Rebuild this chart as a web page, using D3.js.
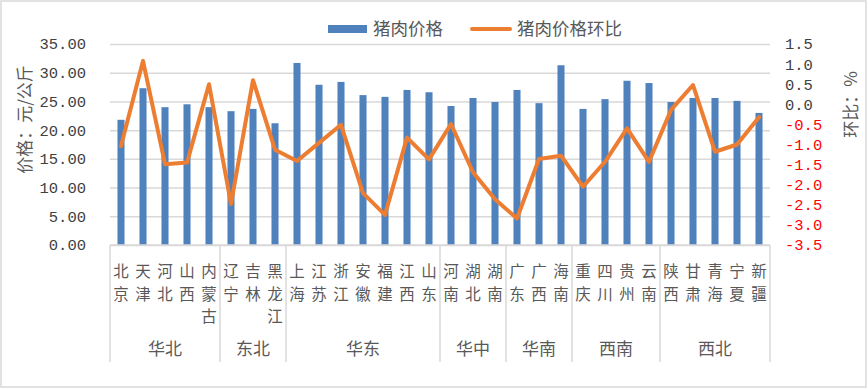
<!DOCTYPE html>
<html>
<head>
<meta charset="utf-8">
<script src="https://cdn.jsdelivr.net/npm/d3@7"></script>
<style>
  body { margin: 0; background: #fff; }
  svg text { font-family: "Noto Sans CJK SC", sans-serif; fill: #595959; }
  .num { font-family: "Liberation Mono", "DejaVu Sans Mono", monospace; }
</style>
</head>
<body>
<div id="chart"></div>
<script>
// provinces, grouped by region
const provinces = ['北京','天津','河北','山西','内蒙古','辽宁','吉林','黑龙江','上海','江苏','浙江','安徽','福建','江西','山东',
  '河南','湖北','湖南','广东','广西','海南','重庆','四川','贵州','云南','陕西','甘肃','青海','宁夏','新疆'];
const regions = [
  { name: '华北', n: 5 }, { name: '东北', n: 3 }, { name: '华东', n: 7 }, { name: '华中', n: 3 },
  { name: '华南', n: 3 }, { name: '西南', n: 4 }, { name: '西北', n: 5 }
];
// pork price, yuan/kg
const price = [21.8, 27.3, 24.0, 24.5, 24.0, 23.3, 23.7, 21.2, 31.7, 27.9, 28.4, 26.1, 25.8, 27.0, 26.6,
  24.2, 25.6, 24.9, 27.0, 24.7, 31.3, 23.7, 25.4, 28.6, 28.2, 24.9, 25.6, 25.6, 25.1, 23.0];
// month-on-month change, %
const mom = [-1.04, 1.08, -1.49, -1.45, 0.5, -2.48, 0.6, -1.13, -1.41, -0.96, -0.51, -2.21, -2.75, -0.83, -1.37,
  -0.49, -1.69, -2.36, -2.84, -1.36, -1.28, -2.05, -1.43, -0.6, -1.43, -0.14, 0.48, -1.18, -1.0, -0.32];
const leftTicks = [0, 5, 10, 15, 20, 25, 30, 35];
const rightTicks = [1.5, 1.0, 0.5, 0.0, -0.5, -1.0, -1.5, -2.0, -2.5, -3.0, -3.5];

const W = 868, H = 389;
const pLeft = 110, pRight = 770, pTop = 44, pBottom = 245;

const svg = d3.select('#chart').append('svg')
  .attr('width', W)
  .attr('height', H);

// outer frame
svg.append('rect')
  .attr('x', 1).attr('y', 1)
  .attr('width', W - 3).attr('height', H - 3)
  .style('fill', 'none')
  .style('stroke', '#d9d9d9')
  .style('stroke-width', 1.5);

const x = d3.scaleBand().domain(provinces).range([pLeft, pRight])
  .paddingInner(0.68).paddingOuter(0.34);
const step = x.step();
const cx = d => x(d) + x.bandwidth() / 2;

const yL = d3.scaleLinear().domain([0, 35]).range([pBottom, pTop]);
const yR = d3.scaleLinear().domain([-3.5, 1.5]).range([pBottom, pTop]);

// gridlines
svg.append('g')
  .attr('transform', `translate(${pLeft},0)`)
  .call(d3.axisLeft(yL).tickValues(leftTicks).tickSize(-(pRight - pLeft)).tickFormat(''))
  .call(g => g.select('.domain').remove())
  .call(g => g.selectAll('line').style('stroke', '#d9d9d9').style('stroke-width', 1.5));

// left axis labels
svg.append('g')
  .attr('transform', `translate(86,0)`)
  .call(d3.axisLeft(yL).tickValues(leftTicks).tickSize(0).tickPadding(0).tickFormat(d3.format('.2f')))
  .call(g => g.select('.domain').remove())
  .call(g => g.selectAll('text')
    .attr('class', 'num')
    .style('font-size', '15.5px')
    .style('fill', '#404040'));

// right axis labels
svg.append('g')
  .attr('transform', `translate(785,0)`)
  .call(d3.axisRight(yR).tickValues(rightTicks).tickSize(0).tickPadding(0)
    .tickFormat(d => d3.format('.1f')(d).replace('−', '-')))
  .call(g => g.select('.domain').remove())
  .call(g => g.selectAll('text')
    .attr('class', 'num')
    .style('font-size', '15.5px')
    .style('fill', d => d < 0 ? '#ff0000' : '#404040'));

// bars
svg.append('g').selectAll('rect')
  .data(provinces)
  .join('rect')
  .attr('x', d => x(d))
  .attr('width', x.bandwidth())
  .attr('y', (d, i) => yL(price[i]))
  .attr('height', (d, i) => yL(0) - yL(price[i]))
  .style('fill', '#4f81bd');

// line
const line = d3.line()
  .x((d, i) => cx(provinces[i]))
  .y(d => yR(d));
svg.append('path')
  .datum(mom)
  .attr('d', line)
  .style('fill', 'none')
  .style('stroke', '#ed7d31')
  .style('stroke-width', 4)
  .style('stroke-linejoin', 'round')
  .style('stroke-linecap', 'round');

// category axis line
svg.append('line')
  .attr('x1', pLeft).attr('x2', pRight)
  .attr('y1', pBottom).attr('y2', pBottom)
  .style('stroke', '#d9d9d9')
  .style('stroke-width', 1.5);

// region separators
let idx = 0;
const bounds = [pLeft];
regions.forEach(r => {
  r.start = idx;
  idx += r.n;
  bounds.push(pLeft + idx * step);
});
svg.append('g').selectAll('line')
  .data(bounds)
  .join('line')
  .attr('x1', d => d).attr('x2', d => d)
  .attr('y1', pBottom).attr('y2', 362)
  .style('stroke', '#d9d9d9')
  .style('stroke-width', 1.5);

// province labels, one character per row
const chars = provinces.flatMap(p => p.split('').map((c, i) => ({ c, p, i })));
svg.append('g').selectAll('text')
  .data(chars)
  .join('text')
  .attr('x', t => cx(t.p))
  .attr('y', t => 277 + t.i * 22.6)
  .attr('text-anchor', 'middle')
  .style('font-size', '15.5px')
  .text(t => t.c);

// region labels
svg.append('g').selectAll('text')
  .data(regions)
  .join('text')
  .attr('x', r => pLeft + (r.start + r.n / 2) * step)
  .attr('y', 355)
  .attr('text-anchor', 'middle')
  .style('font-size', '17px')
  .text(r => r.name);

// axis titles
svg.append('text')
  .attr('transform', `translate(31,${(pTop + pBottom) / 2 - 25}) rotate(-90)`)
  .attr('text-anchor', 'middle')
  .style('font-size', '17px')
  .text('价格：元/公斤');
svg.append('text')
  .attr('transform', `translate(857,${(pTop + pBottom) / 2 - 40}) rotate(-90)`)
  .attr('text-anchor', 'middle')
  .style('font-size', '17px')
  .text('环比：%');

// legend
const lg = svg.append('g');
lg.append('rect')
  .attr('x', 328).attr('y', 25).attr('width', 39).attr('height', 8)
  .style('fill', '#4f81bd');
lg.append('text')
  .attr('x', 373).attr('y', 35)
  .style('font-size', '17.5px')
  .text('猪肉价格');
lg.append('line')
  .attr('x1', 472).attr('x2', 510).attr('y1', 29).attr('y2', 29)
  .style('stroke', '#ed7d31')
  .style('stroke-width', 4)
  .style('stroke-linecap', 'round');
lg.append('text')
  .attr('x', 517).attr('y', 35)
  .style('font-size', '17.5px')
  .text('猪肉价格环比');
</script>
</body>
</html>
